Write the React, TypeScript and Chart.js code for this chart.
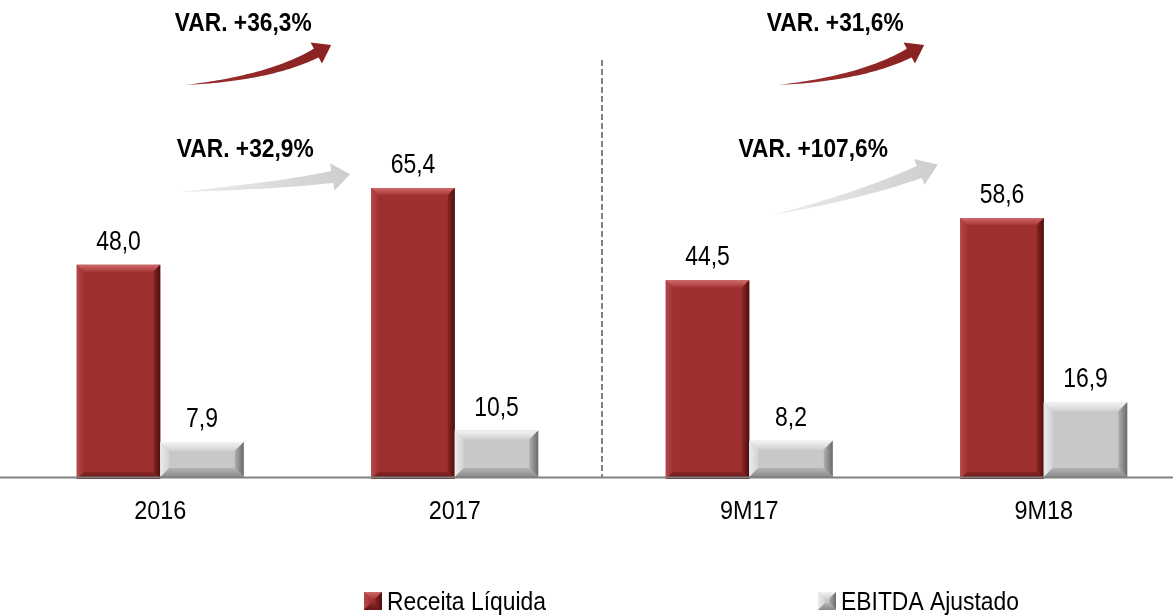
import React, { useEffect, useRef } from "react";
import { Chart, registerables } from "chart.js";

Chart.register(...registerables);

const categories = ["2016", "2017", "9M17", "9M18"];
const receitaLiquida = [48.0, 65.4, 44.5, 58.6];
const ebitdaAjustado = [7.9, 10.5, 8.2, 16.9];
const seriesNames = ["Receita Líquida", "EBITDA Ajustado"];
const varLabels = ["VAR. +36,3%", "VAR. +32,9%", "VAR. +31,6%", "VAR. +107,6%"];

const fmt = (v: number) => v.toFixed(1).replace(".", ",");

const RED = { face: "#9e3030", topA: "#d06a6a", topB: "#a83838", leftA: "#b44848", leftB: "#a03434", rightA: "#8a2424", rightB: "#4e0e0e", botA: "#8a2626", botB: "#601616" };
const GREY = { face: "#c8c8c8", topA: "#f4f4f4", topB: "#d0d0d0", leftA: "#ececec", leftB: "#d2d2d2", rightA: "#b0b0b0", rightB: "#6a6a6a", botA: "#b4b4b4", botB: "#8a8a8a" };

// annotation geometry (decoration), offsets relative to the first category of a pair
const ANNOTATIONS = [
  { label: 0, cat: 0, textDx: 83, textY: 31, color: "red", p0: [25, 85], p1: [110, 78], p2: [156, 53], w: 10, hl: 17, hh: 12 },
  { label: 1, cat: 0, textDx: 85, textY: 157, color: "grey", p0: [18, 192], p1: [115, 186], p2: [172, 177], w: 12, hl: 18, hh: 14 },
  { label: 2, cat: 2, textDx: 86, textY: 31, color: "red", p0: [29, 85], p1: [114, 78], p2: [160, 53], w: 10, hl: 17, hh: 12 },
  { label: 3, cat: 2, textDx: 64, textY: 157, color: "grey", p0: [23, 215], p1: [110, 196], p2: [170, 172], w: 13, hl: 20, hh: 14 },
];

function narrowText(ctx: CanvasRenderingContext2D, text: string, x: number, y: number, font: string, k: number, align: "center" | "left") {
  ctx.save();
  ctx.font = font;
  ctx.textBaseline = "alphabetic";
  ctx.textAlign = align;
  ctx.translate(x, y);
  ctx.scale(k, 1);
  ctx.fillText(text, 0, 0);
  ctx.restore();
}

function bevelRect(ctx: CanvasRenderingContext2D, l: number, t: number, r: number, b: number, bev: number, c: any) {
  const poly = (pts: number[][], fill: any) => {
    ctx.beginPath();
    ctx.moveTo(pts[0][0], pts[0][1]);
    for (let i = 1; i < pts.length; i++) ctx.lineTo(pts[i][0], pts[i][1]);
    ctx.closePath();
    ctx.fillStyle = fill;
    ctx.fill();
  };
  const lin = (x0: number, y0: number, x1: number, y1: number, a: string, bb: string) => {
    const g = ctx.createLinearGradient(x0, y0, x1, y1);
    g.addColorStop(0, a);
    g.addColorStop(1, bb);
    return g;
  };
  poly([[l, t], [r, t], [r, b], [l, b]], c.face);
  poly([[l, t], [r, t], [r - bev, t + bev], [l + bev, t + bev]], lin(0, t, 0, t + bev, c.topA, c.topB));
  poly([[l, t], [l + bev, t + bev], [l + bev, b - bev], [l, b]], lin(l, 0, l + bev, 0, c.leftA, c.leftB));
  poly([[r, t], [r - bev, t + bev], [r - bev, b - bev], [r, b]], lin(r - bev, 0, r, 0, c.rightA, c.rightB));
  poly([[l, b], [l + bev, b - bev], [r - bev, b - bev], [r, b]], lin(0, b - bev, 0, b, c.botA, c.botB));
}

function drawArrow(ctx: CanvasRenderingContext2D, p0: number[], p1: number[], p2: number[], w: number, hl: number, hh: number, fill: any) {
  const N = 40;
  const up: number[][] = [];
  const dn: number[][] = [];
  for (let i = 0; i <= N; i++) {
    const t = i / N;
    const x = (1 - t) * (1 - t) * p0[0] + 2 * (1 - t) * t * p1[0] + t * t * p2[0];
    const y = (1 - t) * (1 - t) * p0[1] + 2 * (1 - t) * t * p1[1] + t * t * p2[1];
    let dx = 2 * (1 - t) * (p1[0] - p0[0]) + 2 * t * (p2[0] - p1[0]);
    let dy = 2 * (1 - t) * (p1[1] - p0[1]) + 2 * t * (p2[1] - p1[1]);
    const L = Math.hypot(dx, dy) || 1;
    dx /= L; dy /= L;
    const hw = (w / 2) * Math.pow(t, 0.9);
    up.push([x - dy * hw, y + dx * hw]);
    dn.push([x + dy * hw, y - dx * hw]);
  }
  let dx = p2[0] - p1[0], dy = p2[1] - p1[1];
  const L = Math.hypot(dx, dy);
  dx /= L; dy /= L;
  ctx.beginPath();
  ctx.moveTo(up[0][0], up[0][1]);
  up.forEach((p) => ctx.lineTo(p[0], p[1]));
  ctx.lineTo(p2[0] - dy * hh, p2[1] + dx * hh);
  ctx.lineTo(p2[0] + dx * hl, p2[1] + dy * hl);
  ctx.lineTo(p2[0] + dy * hh, p2[1] - dx * hh);
  for (let i = dn.length - 1; i >= 0; i--) ctx.lineTo(dn[i][0], dn[i][1]);
  ctx.closePath();
  ctx.fillStyle = fill;
  ctx.fill();
}

const decorPlugin = {
  id: "decor",
  afterDatasetsDraw(chart: any) {
    const ctx: CanvasRenderingContext2D = chart.ctx;
    const xs = chart.scales.x;
    const area = chart.chartArea;
    const base = area.bottom;
    ctx.save();
    // bevelled bars
    chart.data.datasets.forEach((ds: any, di: number) => {
      const meta = chart.getDatasetMeta(di);
      const c = di === 0 ? RED : GREY;
      meta.data.forEach((el: any, i: number) => {
        const l = el.x - el.width / 2;
        const r = el.x + el.width / 2;
        const bev = di === 0 ? 7 : 9;
        bevelRect(ctx, l, el.y, r, el.base + (di === 0 ? 2 : 0), bev, c);
        ctx.fillStyle = "#000";
        narrowText(ctx, fmt(ds.data[i]), el.x, el.y - 15, "28px 'Liberation Sans', Arial, sans-serif", 0.82, "center");
      });
    });
    // axis line
    ctx.strokeStyle = "#808080";
    ctx.lineWidth = 2;
    ctx.beginPath();
    ctx.moveTo(0, base + 0.5);
    ctx.lineTo(chart.width, base + 0.5);
    ctx.stroke();
    // dashed separator
    const sx = Math.round((xs.getPixelForValue(1) + xs.getPixelForValue(2)) / 2);
    ctx.setLineDash([6, 3]);
    ctx.beginPath();
    ctx.moveTo(sx, 60);
    ctx.lineTo(sx, base);
    ctx.stroke();
    ctx.setLineDash([]);
    // category labels
    ctx.fillStyle = "#000";
    categories.forEach((c, i) => {
      narrowText(ctx, c, xs.getPixelForValue(i), 519, "26px 'Liberation Sans', Arial, sans-serif", 0.9, "center");
    });
    // annotations
    ANNOTATIONS.forEach((a) => {
      const cx = xs.getPixelForValue(a.cat);
      const p0 = [cx + a.p0[0], a.p0[1]];
      const p1 = [cx + a.p1[0], a.p1[1]];
      const p2 = [cx + a.p2[0], a.p2[1]];
      let fill: any;
      if (a.color === "red") {
        const g = ctx.createLinearGradient(p0[0], 0, p2[0] + a.hl, 0);
        g.addColorStop(0, "#9a2e2e");
        g.addColorStop(1, "#8a2222");
        fill = g;
      } else {
        const g = ctx.createLinearGradient(p0[0], 0, p2[0] + a.hl, 0);
        g.addColorStop(0, "#eeeeee");
        g.addColorStop(1, "#cdcdcd");
        fill = g;
      }
      drawArrow(ctx, p0, p1, p2, a.w, a.hl, a.hh, fill);
      ctx.fillStyle = "#000";
      narrowText(ctx, varLabels[a.label], cx + a.textDx, a.textY, "bold 25px 'Liberation Sans', Arial, sans-serif", 0.91, "center");
    });
    // legend
    const legendX = [364, 818];
    seriesNames.forEach((n, i) => {
      const c = i === 0 ? RED : GREY;
      bevelRect(ctx, legendX[i], 592, legendX[i] + 18, 610, 7, c);
      ctx.fillStyle = "#000";
      narrowText(ctx, n, legendX[i] + 23, 610, "26px 'Liberation Sans', Arial, sans-serif", 0.88, "left");
    });
    ctx.restore();
  },
};

export default function App() {
  const ref = useRef<HTMLCanvasElement>(null);
  useEffect(() => {
    const prevMargin = document.body.style.margin;
    document.body.style.margin = "0";
    const chart = new Chart(ref.current!, {
      type: "bar",
      data: {
        labels: categories,
        datasets: [
          { label: seriesNames[0], data: receitaLiquida, backgroundColor: "rgba(0,0,0,0)", barPercentage: 1, categoryPercentage: 0.567 },
          { label: seriesNames[1], data: ebitdaAjustado, backgroundColor: "rgba(0,0,0,0)", barPercentage: 1, categoryPercentage: 0.567 },
        ],
      },
      options: {
        responsive: false,
        animation: false,
        devicePixelRatio: 1,
        layout: { padding: { left: 13, right: 9, top: 35, bottom: 139 } },
        plugins: { legend: { display: false }, tooltip: { enabled: false } },
        scales: {
          x: { display: false },
          y: { display: false, min: 0, max: 100 },
        },
      },
      plugins: [decorPlugin],
    });
    return () => {
      chart.destroy();
      document.body.style.margin = prevMargin;
    };
  }, []);
  return (
    <div style={{ position: "absolute", left: 0, top: 0, width: 1173, height: 616, overflow: "hidden", background: "#fff" }}>
      <canvas ref={ref} width={1200} height={616} style={{ display: "block", width: 1200, height: 616 }} />
    </div>
  );
}
